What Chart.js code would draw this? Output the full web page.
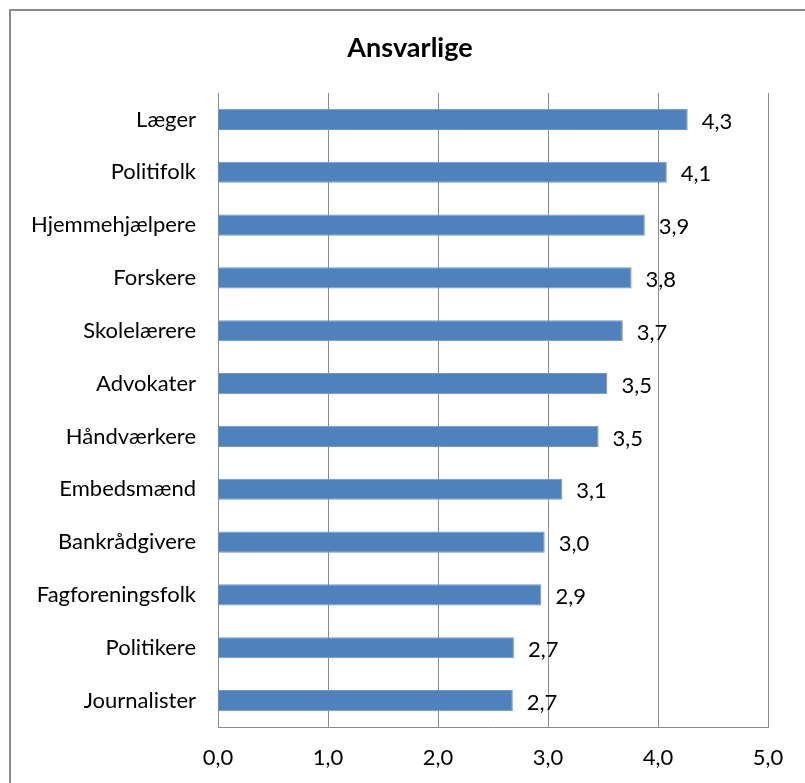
<!DOCTYPE html>
<html>
<head>
<meta charset="utf-8">
<script src="https://cdn.jsdelivr.net/npm/chart.js@4"></script>
<style>
  html, body { margin: 0; padding: 0; background: #fff; overflow: hidden; }
  #wrap { position: relative; width: 805px; height: 783px; }
  #frame { position: absolute; left: 9px; top: 9px; width: 900px; height: 900px; border: 2px solid #8c8c8c; }
  canvas { position: absolute; left: 0; top: 0; }
</style>
</head>
<body>
<div id="wrap">
  <div id="frame"></div>
  <canvas id="chart" width="805" height="783"></canvas>
</div>
<script>
/* === DATA === */
const chartTitle = "Ansvarlige";
const categories = [
  "Læger", "Politifolk", "Hjemmehjælpere", "Forskere", "Skolelærere", "Advokater",
  "Håndværkere", "Embedsmænd", "Bankrådgivere", "Fagforeningsfolk", "Politikere", "Journalister"
];
const scores = [4.27, 4.08, 3.88, 3.76, 3.68, 3.54, 3.46, 3.13, 2.97, 2.94, 2.69, 2.68];
const xTicks = [0, 1, 2, 3, 4, 5];

const FONT = "Lato, 'Open Sans', sans-serif";
const fmt = v => v.toFixed(1).replace(".", ",");

/* title centred over the whole frame, values next to each bar */
const extraText = {
  id: "extraText",
  afterDatasetsDraw(chart) {
    const ctx = chart.ctx;
    const meta = chart.getDatasetMeta(0);
    ctx.save();
    ctx.fillStyle = "#000";
    ctx.textBaseline = "middle";

    ctx.font = "bold 27px " + FONT;
    ctx.textAlign = "center";
    ctx.fillText(chartTitle, 410, 48);

    ctx.font = "22px " + FONT;
    ctx.textAlign = "left";
    meta.data.forEach((bar, i) => {
      ctx.fillText(fmt(scores[i]), bar.x + 14, bar.y + 2);
    });
    ctx.restore();
  }
};

new Chart(document.getElementById("chart"), {
  type: "bar",
  data: {
    labels: categories,
    datasets: [{
      data: scores,
      backgroundColor: "#4f81bd",
      borderColor: "#6f97c8",
      borderWidth: 1,
      categoryPercentage: 1,
      barPercentage: 0.4
    }]
  },
  options: {
    indexAxis: "y",
    responsive: false,
    animation: false,
    layout: { padding: { left: 0, right: 37, top: 93, bottom: 0 } },
    plugins: {
      legend: { display: false },
      tooltip: { enabled: false },
      title: { display: false }
    },
    scales: {
      x: {
        min: 0,
        max: 5,
        afterBuildTicks: s => { s.ticks = xTicks.map(v => ({ value: v })); },
        afterFit: s => { s.height = 56; },
        ticks: {
          padding: 18,
          color: "#000",
          font: { family: FONT, size: 22 },
          callback: v => fmt(v)
        },
        grid: { color: "#8c8c8c", drawTicks: false },
        border: { color: "#8c8c8c" }
      },
      y: {
        afterFit: s => { s.width = 218; },
        ticks: {
          padding: 22,
          color: "#000",
          font: { family: FONT, size: 22 }
        },
        grid: { display: false, drawTicks: false },
        border: { color: "#8c8c8c" }
      }
    }
  },
  plugins: [extraText]
});
</script>
</body>
</html>
